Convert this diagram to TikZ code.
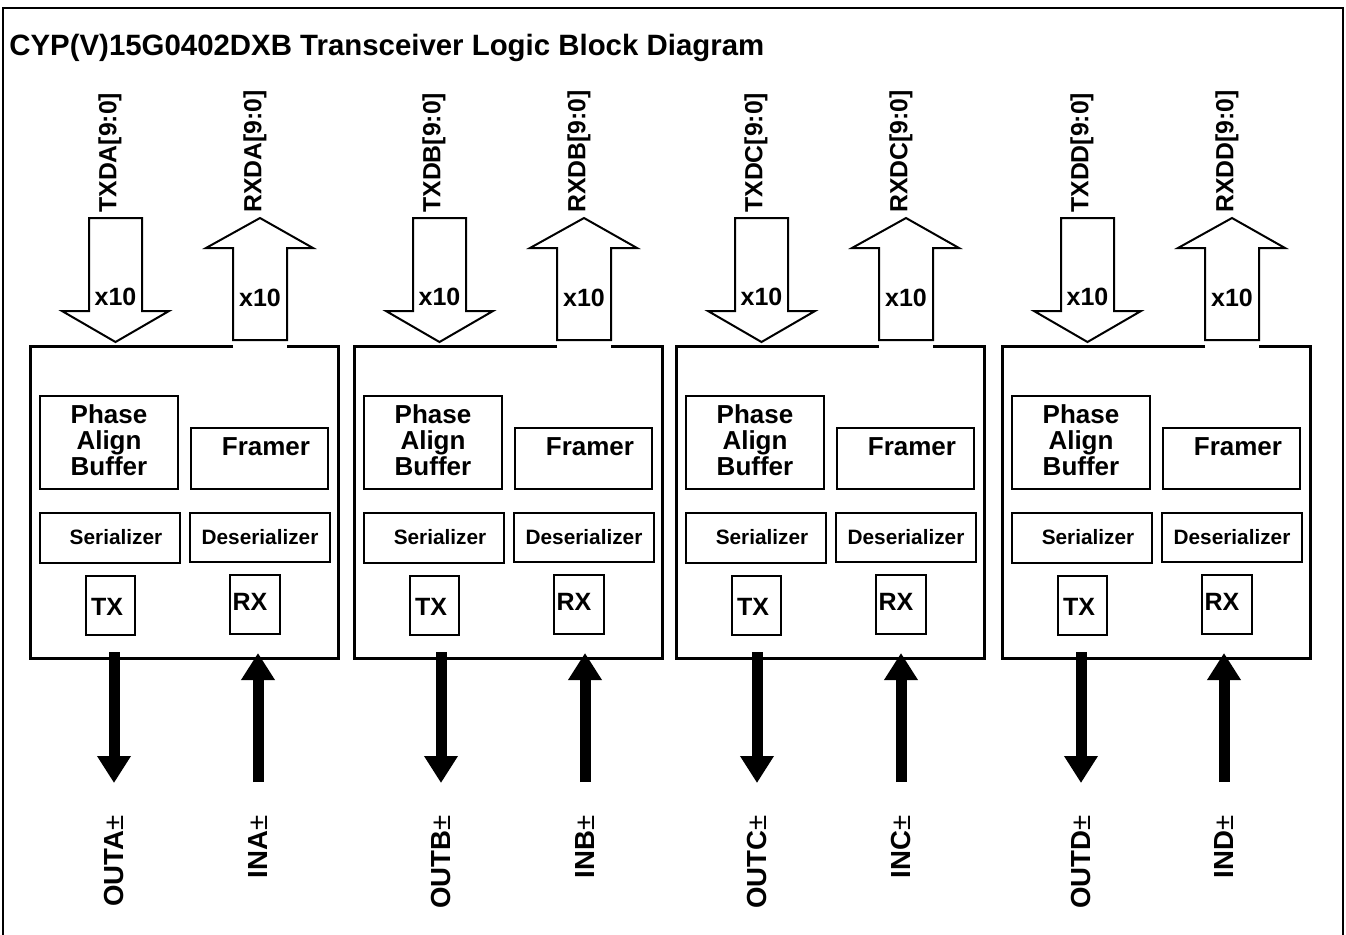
\documentclass[tikz,border=0pt]{standalone}
\usepackage{fontspec}
\setmainfont{Liberation Sans}
\usetikzlibrary{arrows.meta}
\begin{document}
\begin{tikzpicture}[x=0.5pt,y=-0.5pt,
  frameline/.style={line width=1.2pt},
  blockline/.style={line width=1.5pt, line join=miter},
  ibox/.style={draw, line width=1pt, inner sep=0},
  hollow/.style={draw, line width=1pt, fill=white, line join=miter},
  bigtxt/.style={inner sep=0, align=center, font=\bfseries\fontsize{13}{13}\selectfont},
  smalltxt/.style={inner sep=0, font=\bfseries\fontsize{10.4}{12}\selectfont},
  trxtxt/.style={inner sep=0, font=\bfseries\fontsize{12.5}{14}\selectfont},
  xtxt/.style={inner sep=0, font=\bfseries\fontsize{12.5}{14}\selectfont},
  sigtxt/.style={inner sep=0, rotate=90, anchor=west, font=\bfseries\fontsize{12.4}{14}\selectfont},
  pintxt/.style={inner sep=0, rotate=90, anchor=east, font=\bfseries\fontsize{13.8}{15}\selectfont},
  bigarrow/.style={line width=5.5pt, -{Triangle[width=16pt,length=13.5pt]}},
  titletxt/.style={inner sep=0, anchor=base west, font=\bfseries\fontsize{14.7}{16}\selectfont}
]
\useasboundingbox (0,0) rectangle (1346,934);
\fill[white] (0,0) rectangle (1346,934);
% outer frame
\draw[frameline] (3,940) -- (3,8) -- (1343,8) -- (1343,940);
\node[titletxt] (title) at (9,55) {CYP(V)15G0402DXB Transceiver Logic Block Diagram};

\foreach \k/\L/\ox/\ix in {A/30/84/228, B/354/87/231, C/676/81/225, D/1002/79/222}{
\begin{scope}[shift={(\L,0)}]
  % block outline with gap under the RX data arrow
  \node[inner sep=0, minimum width=154pt, minimum height=156pt] (blk\k) at (154,502) {};
  \draw[blockline] (203,346) -- (0,346) -- (0,658) -- (308,658) -- (308,346) -- (257,346);
  % inner boxes
  \node[ibox, minimum width=69pt, minimum height=46.5pt] (pab\k) at (79,442.5) {};
  \node[bigtxt] (pabt\k) at (79,440) {Phase\\Align\\Buffer};
  \node[ibox, minimum width=68.5pt, minimum height=30.5pt] (frm\k) at (229.5,458.5) {};
  \node[bigtxt] (frmt\k) at (236,447) {Framer};
  \node[ibox, minimum width=70pt, minimum height=25pt] (ser\k) at (80,538) {};
  \node[smalltxt] (sert\k) at (86,537) {Serializer};
  \node[ibox, minimum width=70pt, minimum height=24.5pt] (des\k) at (230,537.5) {};
  \node[smalltxt] (dest\k) at (230,537) {Deserializer};
  \node[ibox, minimum width=24.5pt, minimum height=29.5pt] (tx\k) at (80.5,605.5) {};
  \node[trxtxt] (txt\k) at (77,607) {TX};
  \node[ibox, minimum width=25pt, minimum height=29.5pt] (rx\k) at (225,604.5) {};
  \node[trxtxt] (rxt\k) at (220,602) {RX};
  % hollow parallel-bus arrows
  \draw[hollow] (59,218) -- (112,218) -- (112,311) -- (139,311) -- (85.5,342) -- (32,311) -- (59,311) -- cycle;
  \draw[hollow] (230,218) -- (283,248) -- (257,248) -- (257,340) -- (203,340) -- (203,248) -- (176,248) -- cycle;
  \node[xtxt] (xa\k) at (85.5,297) {x10};
  \node[xtxt] (xb\k) at (230,298) {x10};
  \node[sigtxt] (txd\k) at (80,213) {TXD\k[9:0]};
  \node[sigtxt] (rxd\k) at (225,213) {RXD\k[9:0]};
  % serial arrows
  \coordinate (os\k) at (\ox,652);
  \coordinate (oe\k) at (\ox,783);
  \coordinate (is\k) at (\ix,782);
  \coordinate (ie\k) at (\ix,653);
  \draw[bigarrow] (os\k) -- (oe\k);
  \draw[bigarrow] (is\k) -- (ie\k);
  \node[pintxt] (out\k) at (\ox,815) {OUT\k{\mdseries ±}};
  \node[pintxt] (in\k) at (\ix,815) {IN\k{\mdseries ±}};
\end{scope}
}
\end{tikzpicture}
\end{document}
